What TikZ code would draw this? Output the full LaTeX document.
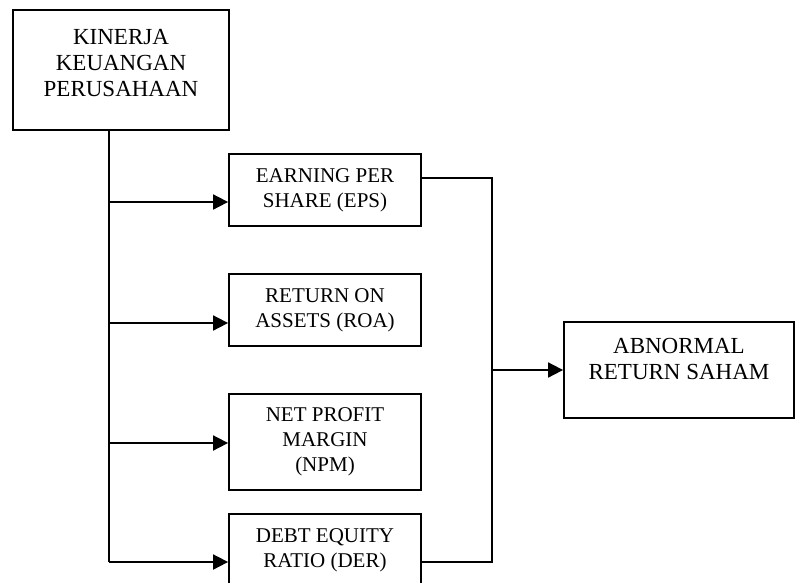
\documentclass[tikz,border=0pt]{standalone}
\usepackage{fontspec}
\setmainfont{Liberation Serif}
\usetikzlibrary{arrows.meta, calc}

\begin{document}
\begin{tikzpicture}[x=1pt, y=-1pt, >={Triangle[length=15pt, width=15pt]},
    bigbox/.style={draw, line width=1.8pt, align=center, inner sep=0pt,
        font=\fontsize{23}{26}\selectfont},
    smallbox/.style={draw, line width=1.8pt, align=center, inner sep=0pt,
        minimum width=192pt, font=\fontsize{21}{25}\selectfont},
    link/.style={line width=1.8pt}]
    \useasboundingbox (0,0) rectangle (795,582);

    % Kinerja keuangan
    \node[bigbox, minimum width=216pt, minimum height=120pt, text depth=14pt]
        (kinerja) at (121,70) {KINERJA\\KEUANGAN\\PERUSAHAAN};

    % Rasio keuangan
    \node[smallbox, minimum height=72pt] (eps) at (325,190) {EARNING PER\\SHARE (EPS)};
    \node[smallbox, minimum height=72pt] (roa) at (325,310) {RETURN ON\\ASSETS (ROA)};
    \node[smallbox, minimum height=96pt] (npm) at (325,442) {NET PROFIT\\MARGIN\\(NPM)};
    \node[smallbox, minimum height=72pt] (der) at (325,550) {DEBT EQUITY\\RATIO (DER)};

    % Abnormal return
    \node[bigbox, minimum width=230pt, minimum height=96pt, text depth=22pt]
        (abnormal) at (679,370) {ABNORMAL\\RETURN SAHAM};

    % Left trunk and arrows
    \coordinate (trunk) at ($(kinerja.south)+(-12,0)$);
    \coordinate (inEps) at ($(eps.west)+(0,12)$);
    \coordinate (inRoa) at ($(roa.west)+(0,13)$);
    \coordinate (inNpm) at ($(npm.west)+(0,1)$);
    \coordinate (inDer) at ($(der.west)+(0,12)$);
    \draw[link] (trunk) -- (trunk |- inDer);
    \foreach \t in {inEps, inRoa, inNpm, inDer}
        \draw[link, ->] (trunk |- \t) -- (\t);

    % Right bus
    \coordinate (outEps) at ($(eps.east)+(0,-12)$);
    \coordinate (outDer) at ($(der.east)+(0,12)$);
    \coordinate (bus) at ($(abnormal.west)+(-71,0)$);
    \draw[link] (outEps) -| (bus) |- (outDer);
    \draw[link, ->] (bus) -- (abnormal.west);
\end{tikzpicture}
\end{document}
